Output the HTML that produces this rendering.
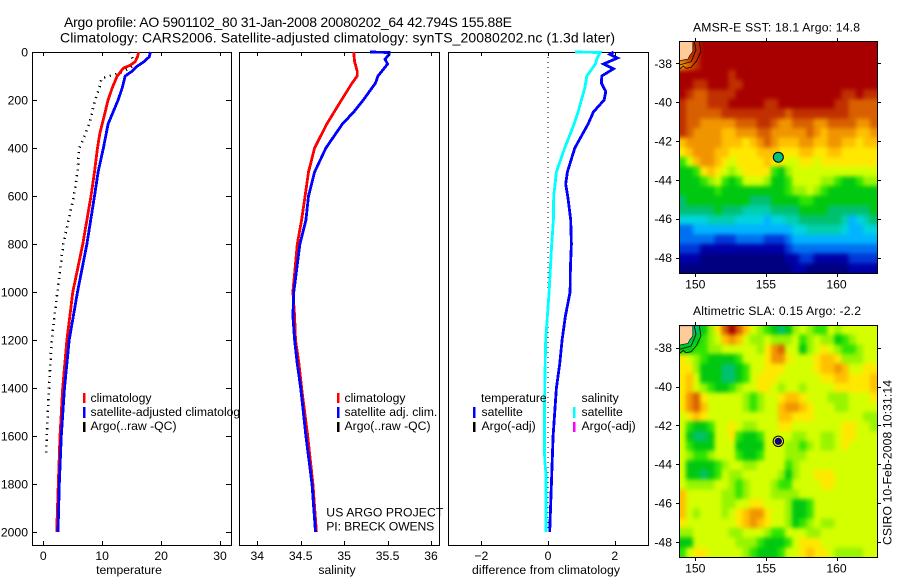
<!DOCTYPE html>
<html>
<head>
<meta charset="utf-8">
<title>Argo profile</title>
<style>
html,body{margin:0;padding:0;background:#fff;}
svg{display:block;font-family:"Liberation Sans",sans-serif;font-size:12.2px;fill:#000;}
.f{fill:none;stroke:#000;stroke-width:1;shape-rendering:crispEdges;}
.w{fill:#fff;stroke:#000;stroke-width:1;shape-rendering:crispEdges;}
.b{shape-rendering:crispEdges;}
</style>
</head>
<body>
<svg id="chart" width="900" height="580" viewBox="0 0 900 580" xmlns="http://www.w3.org/2000/svg">
  <defs>
    <filter id="soften" filterUnits="userSpaceOnUse" x="660" y="20" width="240" height="560" color-interpolation-filters="sRGB">
      <feGaussianBlur stdDeviation="2.2"/>
      <feComponentTransfer><feFuncA type="linear" slope="60"/></feComponentTransfer>
    </filter>
    <clipPath id="clipA"><rect x="679" y="41" width="198" height="232"/></clipPath>
    <clipPath id="clipB"><rect x="679" y="325" width="198" height="232"/></clipPath>
  </defs>
  <rect width="900" height="580" fill="#fff"/>
  <text x="64" y="27" font-size="14" textLength="448" lengthAdjust="spacing">Argo profile: AO 5901102_80 31-Jan-2008 20080202_64 42.794S 155.88E</text>
  <text x="60" y="42.5" font-size="14" textLength="555" lengthAdjust="spacing">Climatology: CARS2006. Satellite-adjusted climatology: synTS_20080202.nc (1.3d later)</text>

  <g id="panelT">
    <rect class="w" x="32.5" y="52.5" width="199" height="493"/>
    <g id="marksT"></g>
    <g>
      <rect class="b" x="83" y="393" width="2.5" height="10" fill="#f00"/>
      <rect class="b" x="83" y="407" width="2.5" height="11" fill="#00f"/>
      <rect class="b" x="83" y="422" width="2.5" height="10" fill="#000"/>
      <text x="90.5" y="402">climatology</text>
      <text x="90.5" y="416">satellite-adjusted climatology</text>
      <text x="90.5" y="430">Argo(..raw -QC)</text>
    </g>
    <text x="129" y="574" text-anchor="middle">temperature</text>
  </g>

  <g id="panelS">
    <rect class="w" x="239.5" y="52.5" width="200" height="493"/>
    <g id="marksS"></g>
    <g>
      <rect class="b" x="337" y="393" width="2.5" height="10" fill="#f00"/>
      <rect class="b" x="337" y="407" width="2.5" height="11" fill="#00f"/>
      <rect class="b" x="337" y="422" width="2.5" height="10" fill="#000"/>
      <text x="344.5" y="402">climatology</text>
      <text x="344.5" y="416">satellite adj. clim.</text>
      <text x="344.5" y="430">Argo(..raw -QC)</text>
    </g>
    <text x="326.3" y="516.5" textLength="117" lengthAdjust="spacing">US ARGO PROJECT</text>
    <text x="326.3" y="530.5" textLength="108" lengthAdjust="spacing">PI: BRECK OWENS</text>
    <text x="337" y="574" text-anchor="middle">salinity</text>
  </g>

  <g id="panelD">
    <rect class="w" x="448.5" y="52.5" width="200" height="493"/>
    <g id="marksD"></g>
    <g>
      <text x="481" y="402">temperature</text>
      <text x="581.5" y="402">salinity</text>
      <rect class="b" x="473" y="407" width="2.5" height="11" fill="#00f"/>
      <rect class="b" x="473" y="422" width="2.5" height="10" fill="#000"/>
      <text x="481.5" y="416">satellite</text>
      <text x="481.5" y="430">Argo(-adj)</text>
      <rect class="b" x="573" y="407" width="2.5" height="11" fill="#0ff"/>
      <rect class="b" x="573" y="422" width="2.5" height="10" fill="#f0f"/>
      <text x="581.5" y="416">satellite</text>
      <text x="581.5" y="430">Argo(-adj)</text>
    </g>
    <text x="546" y="574" text-anchor="middle" textLength="148" lengthAdjust="spacing">difference from climatology</text>
  </g>

  <g id="mapA">
    <text x="693" y="31.5" textLength="167" lengthAdjust="spacing">AMSR-E SST: 18.1 Argo: 14.8</text>
  </g>
  <g id="mapB">
    <text x="693" y="315" textLength="168" lengthAdjust="spacing">Altimetric SLA: 0.15 Argo: -2.2</text>
  </g>
  <text transform="translate(891.5,545) rotate(-90)" textLength="165" lengthAdjust="spacing">CSIRO 10-Feb-2008 10:31:14</text>
</svg>

<script>
// ---- profile data ----
const tempClimDepth = [0,20,40,55,67,80,103,150,200,300,340,400,500,600,800,1000,1200,1400,1600,1800,2000];
const tempClim = [16.2,16,15.6,14.8,13.6,13.2,12.5,11.7,11.0,10,9.6,9.2,8.7,8.1,6.7,5.0,4.0,3.3,2.84,2.55,2.27];
const tempSatDepth = [0,20,40,60,80,100,150,200,300,400,500,600,800,1000,1200,1400,1600,1800,2000];
const tempSat = [18.2,18.0,17.1,15.9,15.1,13.9,13.4,12.7,11.0,10.2,9.3,8.7,7.4,5.8,4.4,3.6,3.06,2.72,2.5];
const tempArgoDepth = [0,10,20,50,70,90,100,110,150,200,300,380,400,500,600,800,1000,1200,1400,1600,1680];
const tempArgo = [14.6,14.8,15,15.6,14.5,12.7,11.3,9.9,9.5,8.8,7.8,6.5,6.1,5.8,5.2,3.4,2.4,1.43,0.97,0.58,0.5];
const salClimDepth = [0,40,80,100,130,200,300,400,500,600,700,800,1000,1100,1200,1300,1400,1600,1800,2000];
const salClim = [35.11,35.12,35.15,35.15,35.09,34.97,34.80,34.66,34.59,34.55,34.51,34.46,34.41,34.43,34.44,34.48,34.51,34.58,34.64,34.68];
const salSatDepth = [0,2,10,30,50,100,130,200,250,300,400,500,600,700,800,1000,1100,1200,1300,1400,1600,1800,2000];
const salSat = [35.3,35.52,35.52,35.47,35.50,35.39,35.36,35.22,35.11,34.98,34.79,34.66,34.59,34.56,34.49,34.42,34.41,34.43,34.46,34.50,34.56,34.63,34.67];
const diffTempDepth = [0,10,25,50,70,100,130,165,200,250,300,400,500,550,600,700,800,900,1000,1100,1200,1300,1400,1600,1800,2000];
const diffTemp = [1.96,1.85,2.08,1.66,1.96,1.61,1.6,1.73,1.68,1.36,1.2,0.8,0.58,0.53,0.59,0.68,0.70,0.67,0.66,0.52,0.42,0.35,0.25,0.15,0.10,0.05];
const diffSalDepth = [0,2,30,50,100,150,200,250,300,400,500,600,700,800,1000,1200,1400,1600,1700,1760,2000];
const diffSal = [0.8,1.56,1.46,1.42,1.16,1.10,1.0,0.9,0.78,0.5,0.25,0.17,0.16,0.11,0.03,-0.07,-0.10,-0.11,-0.10,-0.06,-0.06];
const zeroLineDepth = [0,2000];
const zeroLine = [0,0];
// ---- tick labels ----
const depthTicks = [0,200,400,600,800,1000,1200,1400,1600,1800,2000];
const tempTicks = [0,10,20,30];
const salTicks = [34,34.5,35,35.5,36];
const diffTicks = [-2,0,2];
const lonTicks = [150,155,160];
const latTicks = [-38,-40,-42,-44,-46,-48];
// ---- map data (colour level per cell, north to south) ----
const sstRows = [
[17,17,16,17,17,17,17,17,17,17,17,17,17,17,17,17,17,17,17,17,17,17,17,17,17,17,17,17],
[16,16,16,17,17,17,17,17,17,17,17,17,17,17,17,17,17,17,17,17,17,17,17,17,17,17,17,17],
[14,15,16,17,17,17,17,17,17,17,17,17,17,17,17,17,17,17,17,17,17,17,17,17,17,17,17,17],
[17,17,17,17,17,17,17,16,17,17,17,17,17,17,17,17,17,17,17,17,17,17,17,17,17,17,17,17],
[17,17,16,16,17,17,17,16,16,17,17,17,17,17,17,17,17,17,17,17,17,17,17,17,17,17,17,17],
[17,16,15,15,16,16,16,16,17,17,17,17,17,17,17,17,17,17,17,17,17,17,17,16,16,17,16,16],
[16,15,15,15,16,16,16,17,17,17,17,17,16,16,17,17,17,17,17,17,17,17,16,16,15,15,15,15],
[16,15,15,15,15,15,16,16,16,16,16,16,16,16,16,15,16,16,16,16,16,16,16,16,15,15,15,15],
[16,15,15,14,14,14,14,14,15,15,15,16,16,15,14,14,15,15,15,14,14,15,15,15,15,14,14,15],
[16,15,14,14,14,14,13,13,14,14,14,15,15,14,14,14,14,14,15,14,13,14,14,14,14,13,13,14],
[13,14,14,14,14,14,13,13,13,12,13,14,15,14,13,13,13,14,14,13,13,14,14,13,13,12,13,13],
[12,13,14,14,14,13,13,12,12,12,12,13,13,13,12,12,12,13,13,12,12,13,13,12,12,12,12,12],
[9,11,13,14,14,13,12,11,12,12,12,12,13,12,12,11,11,12,12,11,12,12,12,12,12,12,12,12],
[8,8,9,12,13,12,11,10,11,12,12,12,12,9,8,10,11,11,11,11,11,11,11,11,11,11,11,11],
[8,8,8,9,10,11,9,8,9,11,11,11,10,8,8,9,11,11,11,11,10,10,9,8,8,9,10,10],
[8,8,8,8,8,9,8,8,8,8,8,8,8,8,8,9,10,10,11,10,9,8,8,8,8,8,8,8],
[7,8,8,8,8,8,8,8,8,8,7,7,7,8,8,8,8,9,9,8,8,8,8,8,8,8,8,8],
[7,7,7,7,7,8,7,7,7,6,6,6,6,7,7,7,7,8,8,8,8,7,7,7,7,7,7,8],
[5,5,5,5,6,6,6,6,5,5,5,5,4,5,5,6,6,7,7,7,7,7,7,6,4,5,6,7],
[3,3,4,4,4,4,4,4,4,4,4,4,4,4,4,4,5,5,6,6,6,6,6,5,4,4,5,5],
[3,3,3,3,3,2,2,2,3,3,3,3,2,2,2,3,4,4,4,4,4,4,4,4,4,4,4,4],
[2,2,2,1,1,1,1,1,1,1,1,1,1,1,1,2,3,3,3,3,3,3,3,3,3,3,3,3],
[1,1,1,0,0,0,0,0,0,0,0,0,0,0,0,1,1,2,2,1,1,1,1,1,2,2,2,2],
[0,0,0,0,0,0,0,0,0,0,0,0,0,0,0,0,1,1,0,0,0,0,0,0,1,1,1,1]
];
const slaRows = [
[7,7,7,8,10,12,15,17,15,13,11,10,9,8,7,8,10,11,10,9,9,11,10,11,11,11,11,11],
[7,7,8,9,10,11,13,14,13,11,10,10,11,10,10,10,11,9,10,11,10,10,8,9,10,11,11,11],
[8,8,9,9,10,10,11,11,11,11,11,10,12,14,15,11,11,8,10,11,12,11,10,9,9,10,11,11],
[12,11,10,9,8,8,8,8,9,11,11,11,12,14,14,12,11,11,11,12,13,13,12,10,10,10,11,11],
[12,12,10,8,8,8,7,7,8,9,11,11,12,12,12,11,11,11,11,12,13,13,14,13,11,11,12,12],
[12,13,11,8,8,8,7,7,8,9,11,12,12,12,11,11,11,11,11,11,12,12,13,13,12,12,12,13],
[12,13,11,10,9,8,8,9,10,11,11,12,12,11,10,11,11,10,11,11,11,11,12,12,12,12,12,13],
[12,14,15,12,11,11,11,11,11,10,9,10,11,11,12,13,13,12,11,11,11,10,10,10,11,11,11,12],
[12,14,15,13,11,11,11,11,11,10,9,10,11,11,13,14,14,13,12,11,11,11,10,10,11,11,11,11],
[11,12,13,12,11,11,11,11,11,11,11,11,11,11,13,13,12,12,12,11,11,11,11,11,11,11,10,10],
[11,9,8,8,9,11,11,12,11,10,10,11,11,11,12,12,11,11,11,11,11,11,11,12,12,11,11,10],
[11,8,7,7,8,11,11,12,9,8,8,9,11,11,11,11,10,10,11,11,10,10,11,12,12,11,11,11],
[11,9,8,8,8,11,11,11,8,8,8,8,11,11,11,10,10,9,10,11,10,10,11,12,11,11,11,11],
[11,10,9,9,10,11,11,11,9,8,8,9,11,11,11,10,10,10,11,11,11,11,11,11,11,11,11,11],
[11,8,8,8,8,9,10,11,11,10,10,11,11,11,11,9,10,11,11,11,11,11,11,11,11,11,11,11],
[11,8,8,7,8,9,11,10,10,11,11,11,11,11,10,8,10,11,11,12,12,12,11,11,11,11,11,11],
[11,10,10,10,10,11,11,10,9,10,11,11,11,10,9,9,11,11,11,11,12,12,11,11,11,11,11,11],
[13,11,11,11,11,11,10,10,9,10,11,11,11,10,10,10,10,11,11,11,11,11,11,11,11,11,11,11],
[13,11,11,11,11,11,10,10,11,11,12,12,11,11,11,10,8,8,9,11,11,11,11,11,11,11,11,11],
[13,11,10,11,11,11,10,11,12,13,14,14,12,11,11,10,8,8,9,11,11,11,11,11,11,11,11,11],
[12,11,11,11,11,11,11,11,12,13,14,13,12,11,11,10,8,9,10,11,10,10,11,11,11,11,11,11],
[10,10,11,11,11,11,11,10,10,11,11,11,10,9,9,11,11,11,10,10,11,11,11,11,11,11,11,11],
[8,8,11,11,11,11,11,11,10,10,10,9,8,8,8,9,11,12,12,12,11,11,11,11,11,11,11,11],
[9,11,12,12,11,11,11,11,11,10,9,8,8,8,9,11,11,12,13,12,12,11,10,10,10,10,11,11]
];
const landLon = [148.87,149.82,149.82,149.6,149.48,149.2,148.87];
const landLat = [-36.87,-36.87,-37.4,-37.6,-37.78,-37.82,-37.87];
const contourOuterLon = [150.28,150.40,150.10,149.70,149.34,149.15,148.87];
const contourOuterLat = [-36.87,-37.40,-37.87,-38.21,-38.26,-38.14,-38.31];
const contourInnerLon = [149.93,150.05,149.70,148.87];
const contourInnerLat = [-36.87,-37.31,-37.92,-38.09];
const argoLon = 155.88;
const argoLat = -42.794;

const levelColors = ['#000080','#0000a8','#0038d8','#0070f0','#00b4ff','#00d4e0','#00cfb0','#00c070','#00c810','#30e400','#98f400','#d4ff00','#ffe800','#ffc000','#f09400','#d86000','#c03000','#a80000'];

const NS = 'http://www.w3.org/2000/svg';
function mk(tag, attrs, parent) {
  const el = document.createElementNS(NS, tag);
  for (const k in attrs) el.setAttribute(k, attrs[k]);
  parent.appendChild(el);
  return el;
}
function linear(v0, p0, v1, p1) { return v => p0 + (v - v0) * (p1 - p0) / (v1 - v0); }

// ---- profile axes ----
const yDepth = linear(0, 52, 2000, 532);
const xTemp = linear(0, 43.3, 30, 220);
const xSal = linear(34, 257.3, 36, 431);
const xDiff = linear(-2, 481.3, 2, 614.8);

function drawProfile(parent, xs, ds, xf, color, name, dotted) {
  const pts = xs.map((v, i) => xf(v).toFixed(1) + ',' + yDepth(ds[i]).toFixed(1)).join(' ');
  const a = {points: pts, fill: 'none', stroke: color, 'stroke-width': dotted ? 2.6 : 2.8, 'shape-rendering': 'crispEdges'};
  if (dotted) a['stroke-dasharray'] = '1.2 4.6';
  const el = mk('polyline', a, parent);
  
  
}

function xAxis(panel, ticks, xf, yTop, yBot, name) {
  ticks.forEach(t => {
    const x = Math.round(xf(t)) + 0.5;
    const top = mk('line', {x1: x, x2: x, y1: yTop, y2: yTop + 4, stroke: '#000', 'shape-rendering': 'crispEdges'}, panel);
    
    
    const bot = mk('line', {x1: x, x2: x, y1: yBot - 4, y2: yBot, stroke: '#000', 'shape-rendering': 'crispEdges'}, panel);
    
    
    const lab = mk('text', {x: xf(t), y: 560, 'text-anchor': 'middle'}, panel);
    lab.textContent = String(t).replace('-', '\u2212');
    
    
  });
}

const panelT = document.getElementById('panelT');
const panelS = document.getElementById('panelS');
const panelD = document.getElementById('panelD');
const marksT = document.getElementById('marksT');
const marksS = document.getElementById('marksS');
const marksD = document.getElementById('marksD');

drawProfile(marksT, tempArgo, tempArgoDepth, xTemp, '#000', 'temperature-argo-line', true);
drawProfile(marksT, tempClim, tempClimDepth, xTemp, '#f00', 'temperature-climatology-line', false);
drawProfile(marksT, tempSat, tempSatDepth, xTemp, '#00f', 'temperature-satellite-line', false);
drawProfile(marksS, salClim, salClimDepth, xSal, '#f00', 'salinity-climatology-line', false);
drawProfile(marksS, salSat, salSatDepth, xSal, '#00f', 'salinity-satellite-line', false);
drawProfile(marksD, zeroLine, zeroLineDepth, xDiff, '#000', 'zero-difference-line', false);
marksD.lastChild.setAttribute('stroke-width', '1');
marksD.lastChild.setAttribute('stroke-dasharray', '1 4');
drawProfile(marksD, diffTemp, diffTempDepth, xDiff, '#00f', 'temperature-difference-line', false);
drawProfile(marksD, diffSal, diffSalDepth, xDiff, '#0ff', 'salinity-difference-line', false);

xAxis(panelT, tempTicks, xTemp, 52, 545, 'temperature-axis');
xAxis(panelS, salTicks, xSal, 52, 545, 'salinity-axis');
xAxis(panelD, diffTicks, xDiff, 52, 545, 'difference-axis');

depthTicks.forEach(d => {
  const y = Math.round(yDepth(d)) + 0.5;
  const l = mk('line', {x1: 32, x2: 37, y1: y, y2: y, stroke: '#000', 'shape-rendering': 'crispEdges'}, panelT);
  
  
  const r = mk('line', {x1: 226, x2: 231, y1: y, y2: y, stroke: '#000', 'shape-rendering': 'crispEdges'}, panelT);
  
  
  const lab = mk('text', {x: 28, y: yDepth(d) + 4.5, 'text-anchor': 'end'}, panelT);
  lab.textContent = d;
  
  
});

// ---- maps ----
function drawMap(group, rows, box, latAt38, name, clipId) {
  const xLon = linear(150, 695.3, 160, 836.5);
  const yLat = linear(-38, latAt38, -48, latAt38 + 194.2);
  const cw = box.w / rows[0].length, ch = box.h / rows.length;
  const clip = mk('g', {'clip-path': 'url(#' + clipId + ')'}, group);
  
  
  const field = mk('g', {filter: 'url(#soften)'}, clip);
  
  
  rows.forEach((row, r) => row.forEach((lvl, c) => {
    const cell = mk('rect', {x: box.x + c * cw, y: box.y + r * ch, width: cw + 0.6, height: ch + 0.6, fill: levelColors[lvl], 'shape-rendering': 'crispEdges'}, field);
    
    
  }));
  const toPts = (lons, lats) => lons.map((v, i) => xLon(v).toFixed(1) + ',' + yLat(lats[i]).toFixed(1)).join(' ');
  const land = mk('polygon', {points: toPts(landLon, landLat), fill: '#ffcc99', stroke: '#000', 'stroke-width': 0.6}, group);
  
  
  const c1 = mk('polyline', {points: toPts(contourOuterLon, contourOuterLat), fill: 'none', stroke: '#000', 'stroke-width': 0.8}, group);
  
  
  const c2 = mk('polyline', {points: toPts(contourInnerLon, contourInnerLat), fill: 'none', stroke: '#000', 'stroke-width': 0.8}, group);
  
  
  const frame = mk('rect', {x: box.x + 0.5, y: box.y + 0.5, width: box.w, height: box.h, class: 'f'}, group);
  
  
  lonTicks.forEach(t => {
    const x = Math.round(xLon(t)) + 0.5;
    const a = mk('line', {x1: x, x2: x, y1: box.y - 3, y2: box.y, stroke: '#000', 'shape-rendering': 'crispEdges'}, group);
    
    
    const b = mk('line', {x1: x, x2: x, y1: box.y + box.h + 1, y2: box.y + box.h + 4, stroke: '#000', 'shape-rendering': 'crispEdges'}, group);
    
    
    const lab = mk('text', {x: xLon(t), y: box.y + box.h + 15.5, 'text-anchor': 'middle'}, group);
    lab.textContent = t;
    
    
  });
  latTicks.forEach(t => {
    const y = Math.round(yLat(t)) + 0.5;
    const a = mk('line', {x1: box.x - 3, x2: box.x, y1: y, y2: y, stroke: '#000', 'shape-rendering': 'crispEdges'}, group);
    
    
    const b = mk('line', {x1: box.x + box.w + 1, x2: box.x + box.w + 4, y1: y, y2: y, stroke: '#000', 'shape-rendering': 'crispEdges'}, group);
    
    
    const lab = mk('text', {x: 672, y: yLat(t) + 4.5, 'text-anchor': 'end'}, group);
    lab.textContent = t;
    
    
  });
  return {x: xLon(argoLon), y: yLat(argoLat)};
}

const mapA = document.getElementById('mapA');
const mapB = document.getElementById('mapB');
const pa = drawMap(mapA, sstRows, {x: 679, y: 41, w: 198, h: 232}, 63.3, 'sst-map', 'clipA');
const pb = drawMap(mapB, slaRows, {x: 679, y: 325, w: 198, h: 232}, 347.7, 'sla-map', 'clipB');

const mA = mk('circle', {cx: pa.x, cy: pa.y + 0.8, r: 5, fill: '#00c080', stroke: '#000', 'stroke-width': 1}, mapA);


const mB0 = mk('circle', {cx: pb.x, cy: pb.y + 0.5, r: 5.2, fill: '#ffe800', stroke: '#000', 'stroke-width': 1}, mapB);


const mB1 = mk('circle', {cx: pb.x, cy: pb.y + 0.5, r: 3.6, fill: '#000080'}, mapB);


</script>
</body>
</html>
